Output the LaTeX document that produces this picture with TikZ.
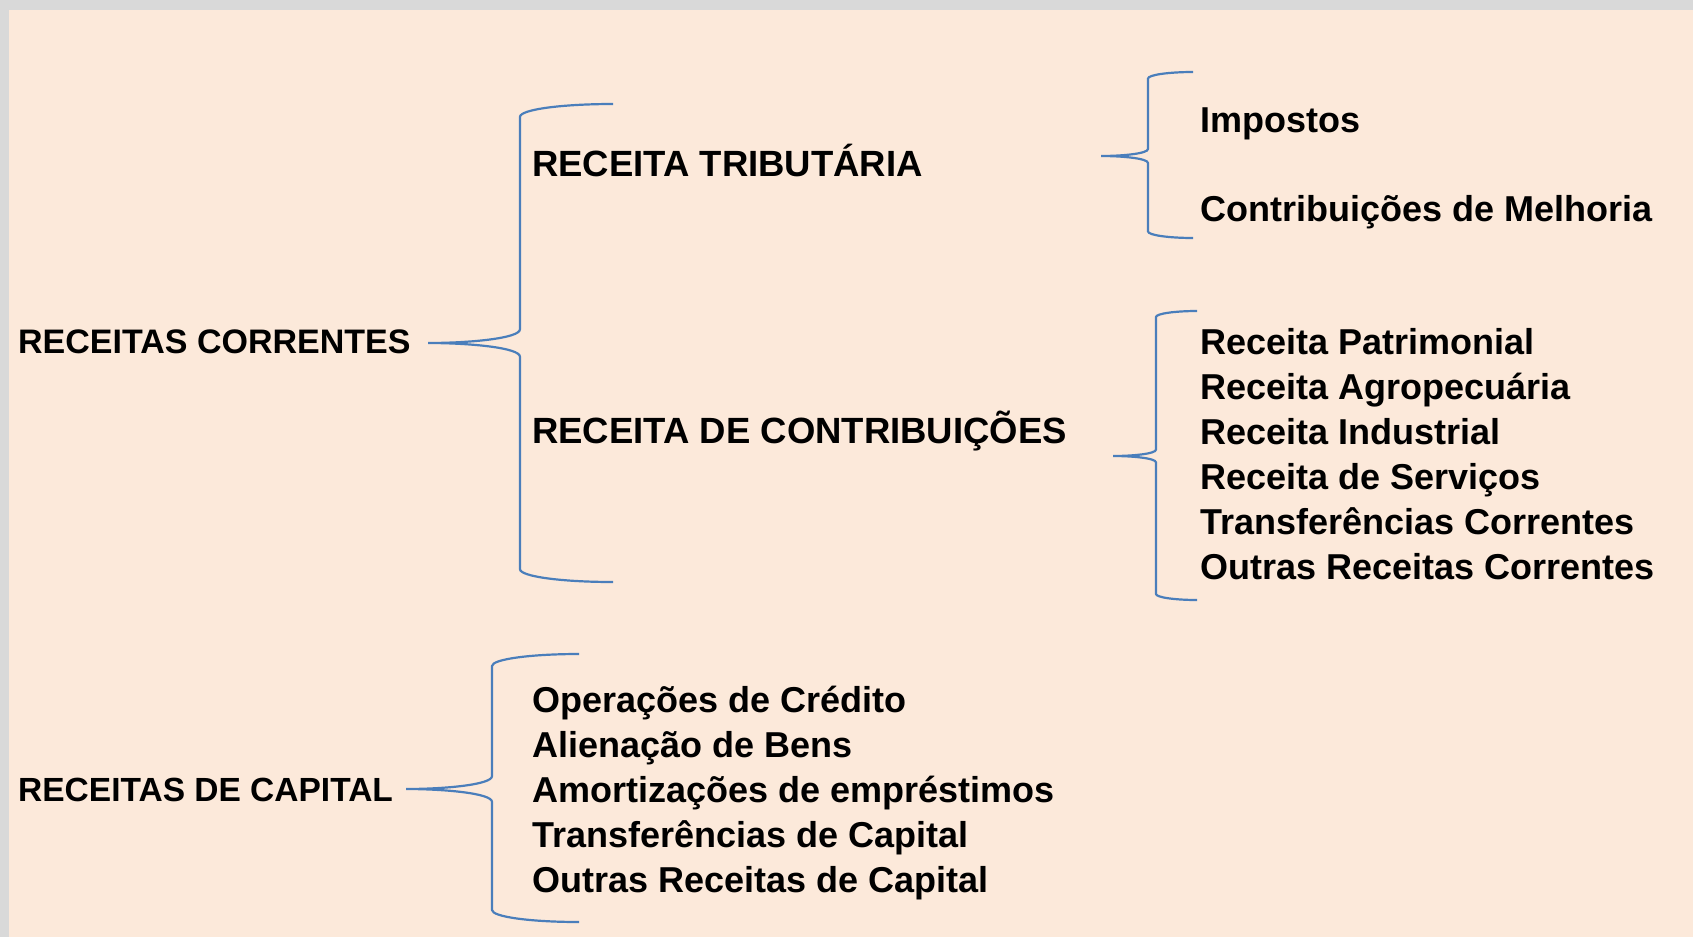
\documentclass[tikz,border=0pt]{standalone}
\usepackage{fontspec}
\setmainfont{Liberation Sans}
\definecolor{fundo}{HTML}{FCE9DA}
\definecolor{borda}{HTML}{D9D9D9}
\definecolor{azul}{HTML}{4A7EBB}

% chave: ponta x, ponta y, haste x, topo y, base y, fim x
\newcommand{\chave}[6]{%
  \draw[traco] (#6,#4) .. controls ({#3+0.45*(#3-#1)},#4) and (#3,{#4+0.06*(#3-#1)}) .. (#3,{#4+0.14*(#3-#1)})
    -- (#3,{#2-0.15*(#3-#1)}) .. controls (#3,{#2-0.05*(#3-#1)}) and ({#1+0.45*(#3-#1)},#2) .. (#1,#2)
    .. controls ({#1+0.45*(#3-#1)},#2) and (#3,{#2+0.05*(#3-#1)}) .. (#3,{#2+0.15*(#3-#1)})
    -- (#3,{#5-0.14*(#3-#1)}) .. controls (#3,{#5-0.06*(#3-#1)}) and ({#3+0.45*(#3-#1)},#5) .. (#6,#5);}

\tikzset{
  traco/.style={azul, line width=2.2pt},
  rotulo/.style={anchor=base west, inner sep=0pt, font=\bfseries\fontsize{36}{40}\selectfont},
  titulo/.style={rotulo, font=\bfseries\fontsize{36.5}{40}\selectfont},
  raiz/.style={rotulo, font=\bfseries\fontsize{#1}{38}\selectfont},
  raiz/.default=34
}

\begin{document}
\begin{tikzpicture}[x=1pt,y=-1pt]
  \fill[borda] (0,0) rectangle (1693,937);
  \fill[fundo] (9,10) rectangle (1693,937);
  \useasboundingbox (0,0) rectangle (1693,937);

  \node[raiz] (correntes) at (18,353) {RECEITAS CORRENTES};
  \node[raiz=33.5] (capital) at (18,801) {RECEITAS DE CAPITAL};

  \node[titulo] (tributaria) at (532,176) {RECEITA TRIBUTÁRIA};
  \node[titulo] (contrib) at (532,443) {RECEITA DE CONTRIBUIÇÕES};

  \node[rotulo] (impostos) at (1200,132) {Impostos};
  \node[rotulo] (melhoria) at (1200,221) {Contribuições de Melhoria};

  \foreach \t [count=\i] in {Receita Patrimonial, Receita Agropecuária, Receita Industrial,
      Receita de Serviços, Transferências Correntes, Outras Receitas Correntes}
    \node[rotulo] (rc\i) at (1200,{354+45*(\i-1)}) {\t};

  \foreach \t [count=\i] in {Operações de Crédito, Alienação de Bens, Amortizações de empréstimos,
      Transferências de Capital, Outras Receitas de Capital}
    \node[rotulo] (rk\i) at (532,{712+45*(\i-1)}) {\t};

  % chaves
  \chave{428}{343}{520}{104}{582}{613}
  \chave{1101}{156}{1148}{72}{238}{1193}
  \chave{1113}{456}{1156}{311}{600}{1197}
  \chave{406}{789}{492}{654}{922}{579}
\end{tikzpicture}
\end{document}
